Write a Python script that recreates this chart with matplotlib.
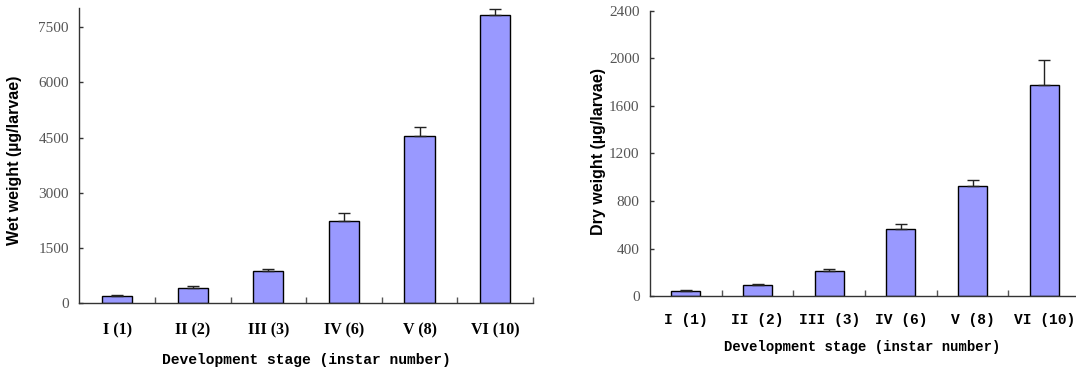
import numpy as np
import matplotlib
matplotlib.use("Agg")
import matplotlib.pyplot as plt

# Larval weights by development stage (mean and upper error)
stages_left = ["I (1)", "II (2)", "III (3)", "IV (6)", "V (8)", "VI (10)"]
stages_right = ["I (1)", "II (2)", "III (3)", "IV (6)", "V (8)", "VI (10)"]
wet_weight = [205, 405, 885, 2240, 4535, 7825]
wet_err = [20, 70, 35, 200, 260, 180]
dry_weight = [45, 90, 213, 567, 924, 1779]
dry_err = [4, 8, 12, 42, 55, 208]
wet_ticks = [0, 1500, 3000, 4500, 6000, 7500]
dry_ticks = [0, 400, 800, 1200, 1600, 2000, 2400]

W, H = 1076, 374
fig = plt.figure(figsize=(W / 100, H / 100), dpi=100)

bar_color = "#9999ff"
serif = "Liberation Serif"
mono = "Liberation Mono"


def px(x0, y0, x1, y1):
    # pixel box (from top-left) -> figure fraction rect
    return [x0 / W, (H - y1) / H, (x1 - x0) / W, (y1 - y0) / H]


def draw_panel(ax, values, errs, labels, yticks, ymax, width, tick_font, tick_size,
               tick_weight, xpad):
    x = np.arange(len(values))
    ax.bar(x, values, width=width, color=bar_color, edgecolor="black", linewidth=1, zorder=2)
    ax.errorbar(x, values, yerr=[np.zeros(len(errs)), errs], fmt="none", ecolor="#222222",
                elinewidth=1, capsize=4.5, capthick=1, zorder=3, clip_on=False)
    ax.set_xlim(-0.5, len(values) - 0.5)
    ax.set_ylim(0, ymax)
    for s in ["top", "right"]:
        ax.spines[s].set_visible(False)
    for s in ["left", "bottom"]:
        ax.spines[s].set_color("#333333")
        ax.spines[s].set_linewidth(1)
    ax.set_yticks(yticks)
    ax.set_yticklabels([str(t) for t in yticks], fontfamily=serif, fontsize=11, color="#555555")
    ax.tick_params(axis="y", direction="in", length=3, width=1, color="#333333", pad=7.5)
    ax.set_xticks(x)
    ax.set_xticklabels(labels, fontfamily=tick_font, fontsize=tick_size, fontweight=tick_weight)
    ax.tick_params(axis="x", which="major", length=0, pad=xpad)
    ax.set_xticks(np.arange(0.5, len(values)), minor=True)
    ax.tick_params(axis="x", which="minor", direction="in", length=4, width=1, color="#555555")


ax1 = fig.add_axes(px(79.3, 8, 533, 303.3))
draw_panel(ax1, wet_weight, wet_err, stages_left, wet_ticks, 8020, 0.4, serif, 11.5, "bold", 14)

ax2 = fig.add_axes(px(650, 11, 1080, 296))
draw_panel(ax2, dry_weight, dry_err, stages_right, dry_ticks, 2400, 0.405, mono, 10.5, "bold", 12.5)

# axis titles
fig.text(15 / W, 1 - 160 / H, "Wet weight (\u00b5g/larvae)", rotation=90, ha="center",
         va="center", fontfamily="Liberation Sans", fontweight="bold", fontsize=11.5)
fig.text(598 / W, 1 - 151.5 / H, "Dry weight (\u00b5g/larvae)", rotation=90, ha="center",
         va="center", fontfamily="Liberation Sans", fontweight="bold", fontsize=11.5)
fig.text(306 / W, 1 - 360 / H, "Development stage (instar number)", ha="center", va="center",
         fontfamily=mono, fontweight="bold", fontsize=10.5)
fig.text(862 / W, 1 - 346.7 / H, "Development stage (instar number)", ha="center", va="center",
         fontfamily=mono, fontweight="bold", fontsize=10)

fig.savefig("out.png", dpi=100)
